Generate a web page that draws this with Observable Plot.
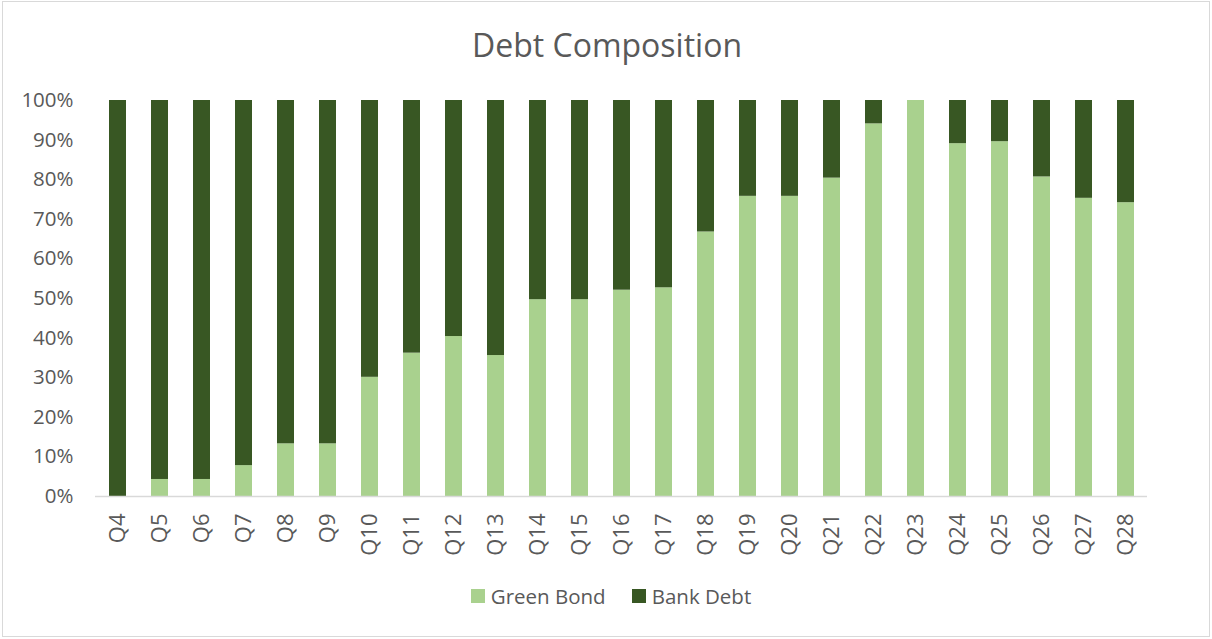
<!DOCTYPE html>
<html>
<head>
<meta charset="utf-8">
<script src="https://cdn.jsdelivr.net/npm/d3@7"></script>
<script src="https://cdn.jsdelivr.net/npm/@observablehq/plot@0.6"></script>
<style>
  html, body { margin: 0; padding: 0; background: #fff; }
  #chart { position: relative; width: 1212px; height: 639px; overflow: hidden; font-family: "Open Sans", sans-serif; color: #595959; }
  #frame { position: absolute; left: 2px; top: 1px; right: 2px; bottom: 2px; border: 1px solid #d9d9d9; pointer-events: none; }
  #title { position: absolute; left: 0; top: 24px; width: 1214px; text-align: center; font-size: 32px; line-height: 42px; color: #595959; }
  #plot { position: absolute; left: 0; top: 80px; }
  #legend { position: absolute; left: 0; top: 582px; width: 1222px; display: flex; justify-content: center; align-items: center; font-size: 20.5px; line-height: 28px; color: #595959; }
  .item { display: flex; align-items: center; margin: 0 13px; }
  .sw { width: 14px; height: 14px; margin-right: 6px; }
</style>
</head>
<body>
<div id="chart">
  <div id="frame"></div>
  <div id="title">Debt Composition</div>
  <div id="plot"></div>
  <div id="legend"></div>
</div>
<script>
const quarters = ["Q4","Q5","Q6","Q7","Q8","Q9","Q10","Q11","Q12","Q13","Q14","Q15","Q16","Q17","Q18","Q19","Q20","Q21","Q22","Q23","Q24","Q25","Q26","Q27","Q28"];
const greenBond = [0, 4.3, 4.3, 7.8, 13.3, 13.3, 30.1, 36.2, 40.4, 35.6, 49.7, 49.7, 52.1, 52.7, 66.8, 75.8, 75.8, 80.4, 94.1, 100, 89.1, 89.6, 80.7, 75.3, 74.2];
const bankDebt = [100, 95.7, 95.7, 92.2, 86.7, 86.7, 69.9, 63.8, 59.6, 64.4, 50.3, 50.3, 47.9, 47.3, 33.2, 24.2, 24.2, 19.6, 5.9, 0, 10.9, 10.4, 19.3, 24.7, 25.8];
const seriesNames = ["Green Bond", "Bank Debt"];
const seriesColors = ["#A9D18E", "#385723"];
const yTicks = [0, 10, 20, 30, 40, 50, 60, 70, 80, 90, 100];

const rows = [];
quarters.forEach((q, i) => {
  rows.push({quarter: q, series: seriesNames[0], value: greenBond[i]});
  rows.push({quarter: q, series: seriesNames[1], value: bankDebt[i]});
});

const plot = Plot.plot({
  width: 1212,
  height: 490,
  marginTop: 20,
  marginBottom: 74,
  marginLeft: 95,
  marginRight: 65,
  style: {fontFamily: "Open Sans, sans-serif", fontSize: "20.5px", color: "#595959", background: "transparent"},
  x: {type: "band", domain: quarters, paddingInner: 0.6, paddingOuter: 0.3, label: null},
  y: {domain: [0, 100], label: null},
  color: {domain: seriesNames, range: seriesColors},
  marks: [
    Plot.barY(rows, Plot.stackY({x: "quarter", y: "value", fill: "series", order: seriesNames})),
    Plot.ruleY([0], {stroke: "#d9d9d9", strokeWidth: 1.5}),
    Plot.axisY({ticks: yTicks, tickFormat: d => d + "%", tickSize: 0, tickPadding: 22, label: null}),
    Plot.axisX({tickRotate: -90, tickSize: 0, tickPadding: 17, label: null, fontSize: 22})
  ]
});
document.getElementById("plot").appendChild(plot);

const legend = document.getElementById("legend");
seriesNames.forEach((name, i) => {
  const item = document.createElement("div");
  item.className = "item";
  const sw = document.createElement("div");
  sw.className = "sw";
  sw.style.background = seriesColors[i];
  const label = document.createElement("span");
  label.textContent = name;
  item.appendChild(sw);
  item.appendChild(label);
  legend.appendChild(item);
});
</script>
</body>
</html>
